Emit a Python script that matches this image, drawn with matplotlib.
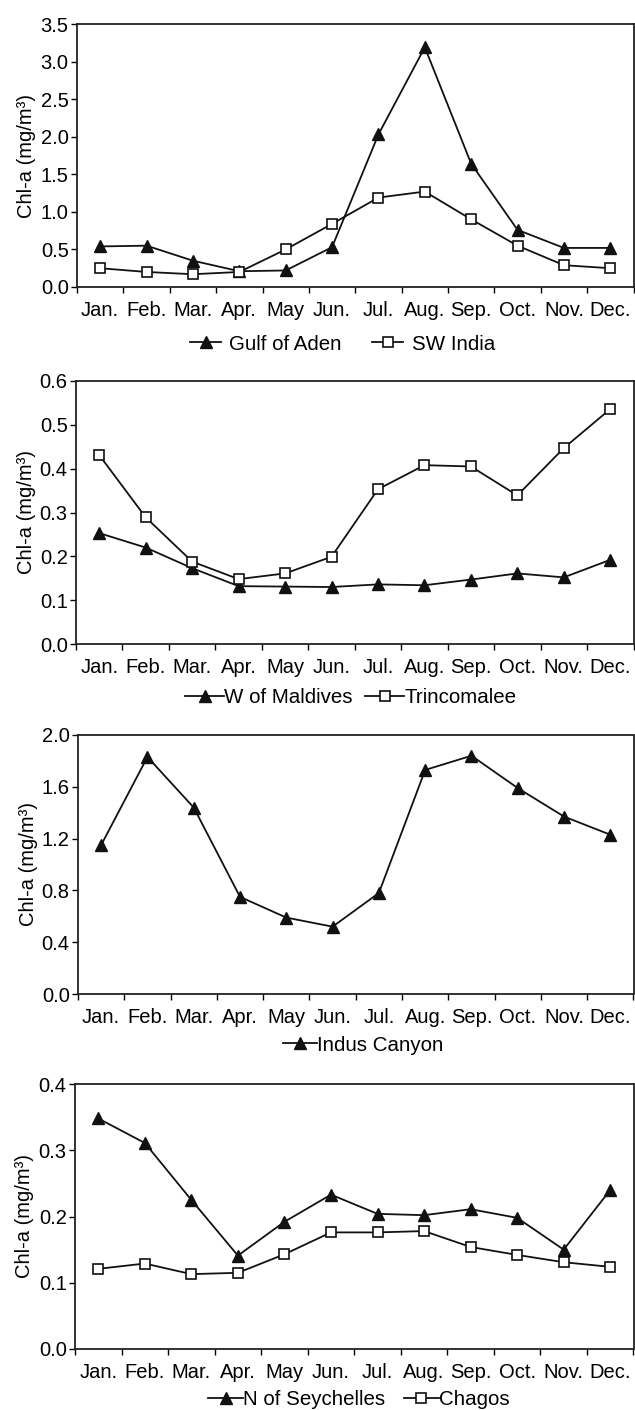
import matplotlib
matplotlib.use('Agg')
import matplotlib.pyplot as plt
import numpy as np

plt.rcParams['font.family'] = ['Liberation Sans', 'DejaVu Sans']

# ── Data ──────────────────────────────────────────────────────────────────
months = ['Jan.', 'Feb.', 'Mar.', 'Apr.', 'May', 'Jun.', 'Jul.',
          'Aug.', 'Sep.', 'Oct.', 'Nov.', 'Dec.']

gulf_of_aden = [0.54, 0.55, 0.35, 0.21, 0.22, 0.53, 2.03, 3.19, 1.64, 0.76, 0.52, 0.52]
sw_india     = [0.25, 0.20, 0.17, 0.20, 0.50, 0.84, 1.19, 1.27, 0.90, 0.55, 0.29, 0.25]

w_maldives   = [0.253, 0.220, 0.173, 0.132, 0.131, 0.130, 0.136, 0.134, 0.147, 0.161, 0.152, 0.192]
trincomalee  = [0.431, 0.289, 0.188, 0.148, 0.161, 0.199, 0.353, 0.408, 0.405, 0.339, 0.447, 0.536]

indus_canyon = [1.15, 1.83, 1.44, 0.75, 0.59, 0.52, 0.78, 1.73, 1.84, 1.59, 1.37, 1.23]

n_seychelles = [0.348, 0.311, 0.225, 0.141, 0.192, 0.233, 0.204, 0.202, 0.211, 0.198, 0.150, 0.240]
chagos       = [0.121, 0.129, 0.113, 0.115, 0.143, 0.176, 0.176, 0.178, 0.154, 0.142, 0.131, 0.124]

x = np.arange(1, 13)

W, H = 635, 1410
fig = plt.figure(figsize=(W / 100, H / 100), dpi=100)

# axes extents in pixels (left, right, top, bottom)
px_boxes = [(77, 633.5, 24, 287),
            (76, 633.5, 381, 644),
            (78, 633.5, 735, 994),
            (75, 633.5, 1084, 1349)]

panels = [
    dict(series=[(gulf_of_aden, 'Gulf of Aden', '^'), (sw_india, 'SW India', 's')],
         ylim=3.5, step=0.5, leg_x=0.477, leg_y=-0.217, hlen=1.5, tpad=0.4, colsp=1.5),
    dict(series=[(w_maldives, 'W of Maldives', '^'), (trincomalee, 'Trincomalee', 's')],
         ylim=0.6, step=0.1, leg_x=0.493, leg_y=-0.205, hlen=1.9, tpad=0.0, colsp=0.6),
    dict(series=[(indus_canyon, 'Indus Canyon', '^')],
         ylim=2.0, step=0.4, leg_x=0.514, leg_y=-0.197, hlen=1.65, tpad=0.0, colsp=0.6),
    dict(series=[(n_seychelles, 'N of Seychelles', '^'), (chagos, 'Chagos', 's')],
         ylim=0.4, step=0.1, leg_x=0.508, leg_y=-0.19, hlen=1.7, tpad=0.0, colsp=0.9),
]

for (l, r, t, b), p in zip(px_boxes, panels):
    ax = fig.add_axes((l / W, 1 - b / H, (r - l) / W, (b - t) / H))
    for vals, name, mk in p['series']:
        if mk == '^':
            ax.plot(x, vals, color='#111111', linewidth=1.3, marker='^',
                    markersize=8.5, markerfacecolor='#111111',
                    markeredgecolor='#111111', label=name, clip_on=False)
        else:
            ax.plot(x, vals, color='#111111', linewidth=1.3, marker='s',
                    markersize=7.5, markerfacecolor='white',
                    markeredgecolor='#111111', markeredgewidth=1.2,
                    label=name, clip_on=False)

    ax.set_xlim(0.5, 12.5)
    ax.set_ylim(0, p['ylim'])
    ax.set_yticks(np.arange(0, p['ylim'] + p['step'] / 2, p['step']))
    ax.yaxis.set_major_formatter(matplotlib.ticker.FormatStrFormatter('%.1f'))
    ax.set_xticks(x)
    ax.set_xticklabels(months)
    ax.set_xticks(np.arange(0.5, 13, 1), minor=True)
    ax.tick_params(axis='x', which='major', length=0, pad=10, labelsize=14.5)
    ax.tick_params(axis='x', which='minor', length=4.5, direction='out', width=1)
    ax.tick_params(axis='y', length=4.5, direction='out', width=1, labelsize=14.5, pad=1.5)
    ax.set_ylabel('Chl-a (mg/m³)', fontsize=14.5, labelpad=3)
    for sp in ax.spines.values():
        sp.set_linewidth(1.3)
        sp.set_color('#222222')

    ax.legend(loc='center', bbox_to_anchor=(p['leg_x'], p['leg_y']), ncol=2,
              frameon=False, fontsize=14.8, handlelength=p['hlen'],
              handletextpad=p['tpad'], columnspacing=p['colsp'], borderaxespad=0)

plt.savefig('out.png', dpi=100)
